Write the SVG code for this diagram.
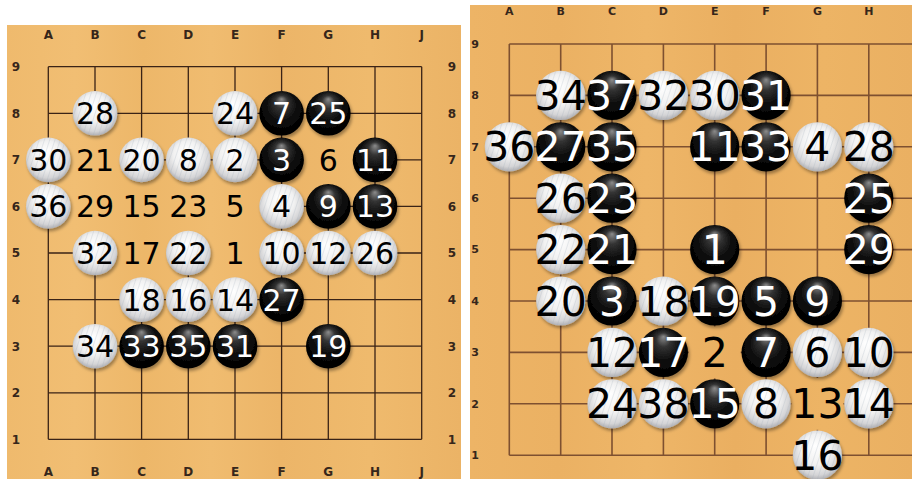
<svg xmlns="http://www.w3.org/2000/svg" width="912" height="479" viewBox="0 0 912 479">
<style>
.ln-l{stroke:#3a2316;stroke-width:1.3;fill:none}
.ln-r{stroke:#7e5030;stroke-width:1.6;fill:none}
.co{font-family:"DejaVu Sans",sans-serif;font-size:12px;font-weight:bold;fill:#36261a;text-anchor:middle}
.cr{font-size:11px}
.n{font-family:"DejaVu Sans",sans-serif;text-anchor:middle}
.nl{font-size:30px}
.nr{font-size:41px}
.bk{fill:url(#bg)}
.wh{fill:url(#wg)}
.gr{fill:url(#grain)}
.sh{filter:url(#ds)}
.tw{fill:#fff}
.tb{fill:#000}
</style>
<defs>
<linearGradient id="woodL" gradientUnits="userSpaceOnUse" x1="7" y1="0" x2="461" y2="0">
<stop offset="0" stop-color="#efba6d"/><stop offset="0.15" stop-color="#f1be73"/><stop offset="0.3" stop-color="#edb769"/><stop offset="0.45" stop-color="#f0bc70"/><stop offset="0.6" stop-color="#ecb568"/><stop offset="0.8" stop-color="#efba6d"/><stop offset="1" stop-color="#ebb366"/>
</linearGradient>
<linearGradient id="woodR" gradientUnits="userSpaceOnUse" x1="470" y1="0" x2="912" y2="0">
<stop offset="0" stop-color="#edb466"/><stop offset="0.2" stop-color="#ebb163"/><stop offset="0.4" stop-color="#eeb668"/><stop offset="0.6" stop-color="#eaaf61"/><stop offset="0.8" stop-color="#edb465"/><stop offset="1" stop-color="#eab062"/>
</linearGradient>
<radialGradient id="bg" cx="0.5" cy="0.45" r="0.58" fx="0.5" fy="0.18">
<stop offset="0" stop-color="#8c8c8c"/><stop offset="0.25" stop-color="#333"/><stop offset="0.6" stop-color="#0b0b0b"/><stop offset="1" stop-color="#000"/>
</radialGradient>
<radialGradient id="wg" cx="0.5" cy="0.45" r="0.56" fx="0.45" fy="0.3">
<stop offset="0" stop-color="#ffffff"/><stop offset="0.55" stop-color="#f1f1f1"/><stop offset="0.85" stop-color="#d4d4d6"/><stop offset="1" stop-color="#ababaf"/>
</radialGradient>
<pattern id="grain" patternUnits="userSpaceOnUse" width="5" height="12" patternTransform="rotate(18)">
<rect x="0" y="0" width="1" height="12" fill="#9aa6b4" opacity="0.22"/>
</pattern>
<filter id="ds" x="-30%" y="-30%" width="160%" height="160%">
<feDropShadow dx="1.5" dy="2.5" stdDeviation="1.6" flood-color="#000" flood-opacity="0.35"/>
</filter>
</defs>
<rect width="912" height="479" fill="#fff"/>

<g id="board-left">
<rect x="7" y="25" width="454" height="454" fill="url(#woodL)"/>
<g id="coords-left">
<text class="co" x="48.3" y="38.5">A</text><text class="co" x="95" y="38.5">B</text><text class="co" x="141.6" y="38.5">C</text><text class="co" x="188.3" y="38.5">D</text><text class="co" x="235" y="38.5">E</text><text class="co" x="281.6" y="38.5">F</text><text class="co" x="328.3" y="38.5">G</text><text class="co" x="375" y="38.5">H</text><text class="co" x="421.7" y="38.5">J</text>
<text class="co" x="48.3" y="475.5">A</text><text class="co" x="95" y="475.5">B</text><text class="co" x="141.6" y="475.5">C</text><text class="co" x="188.3" y="475.5">D</text><text class="co" x="235" y="475.5">E</text><text class="co" x="281.6" y="475.5">F</text><text class="co" x="328.3" y="475.5">G</text><text class="co" x="375" y="475.5">H</text><text class="co" x="421.7" y="475.5">J</text>
<text class="co" x="16" y="71">9</text><text class="co" x="16" y="117.6">8</text><text class="co" x="16" y="164.2">7</text><text class="co" x="16" y="210.7">6</text><text class="co" x="16" y="257.3">5</text><text class="co" x="16" y="303.9">4</text><text class="co" x="16" y="350.5">3</text><text class="co" x="16" y="397.1">2</text><text class="co" x="16" y="443.6">1</text>
<text class="co" x="452" y="71">9</text><text class="co" x="452" y="117.6">8</text><text class="co" x="452" y="164.2">7</text><text class="co" x="452" y="210.7">6</text><text class="co" x="452" y="257.3">5</text><text class="co" x="452" y="303.9">4</text><text class="co" x="452" y="350.5">3</text><text class="co" x="452" y="397.1">2</text><text class="co" x="452" y="443.6">1</text>
</g>
</g>

<g id="board-right">
<rect x="470" y="5" width="442" height="474" fill="url(#woodR)"/>
<g id="coords-right">
<text class="co cr" x="509.3" y="15">A</text><text class="co cr" x="560.7" y="15">B</text><text class="co cr" x="612" y="15">C</text><text class="co cr" x="663.4" y="15">D</text><text class="co cr" x="714.7" y="15">E</text><text class="co cr" x="766.1" y="15">F</text><text class="co cr" x="817.4" y="15">G</text><text class="co cr" x="868.8" y="15">H</text>
<text class="co cr" x="475" y="47.8">9</text><text class="co cr" x="475" y="99.2">8</text><text class="co cr" x="475" y="150.6">7</text><text class="co cr" x="475" y="202">6</text><text class="co cr" x="475" y="253.4">5</text><text class="co cr" x="475" y="304.8">4</text><text class="co cr" x="475" y="356.2">3</text><text class="co cr" x="475" y="407.6">2</text><text class="co cr" x="475" y="459">1</text>
</g>
</g>

<g id="connectors">
<g id="grid-left" class="ln-l">
<path d="M48.3 66.7V439.3M95 66.7V439.3M141.6 66.7V439.3M188.3 66.7V439.3M235 66.7V439.3M281.6 66.7V439.3M328.3 66.7V439.3M375 66.7V439.3M421.7 66.7V439.3"/>
<path d="M48.3 66.7H421.7M48.3 113.3H421.7M48.3 159.9H421.7M48.3 206.4H421.7M48.3 253H421.7M48.3 299.6H421.7M48.3 346.2H421.7M48.3 392.8H421.7M48.3 439.3H421.7"/>
</g>
<g id="grid-right" class="ln-r">
<path d="M509.3 44V455.2M560.7 44V455.2M612 44V455.2M663.4 44V455.2M714.7 44V455.2M766.1 44V455.2M817.4 44V455.2M868.8 44V455.2"/>
<path d="M509.3 44H912M509.3 95.4H912M509.3 146.8H912M509.3 198.2H912M509.3 249.6H912M509.3 301H912M509.3 352.4H912M509.3 403.8H912M509.3 455.2H912"/>
</g>
</g>

<g id="labels-left">
<g id="L-B7"><rect x="70" y="134.9" width="50" height="50" fill="url(#woodL)"/><text class="n nl tb" x="95" y="170.9">21</text></g>
<g id="L-G7"><rect x="303.3" y="134.9" width="50" height="50" fill="url(#woodL)"/><text class="n nl tb" x="328.3" y="170.9">6</text></g>
<g id="L-B6"><rect x="70" y="181.4" width="50" height="50" fill="url(#woodL)"/><text class="n nl tb" x="95" y="217.4">29</text></g>
<g id="L-C6"><rect x="116.6" y="181.4" width="50" height="50" fill="url(#woodL)"/><text class="n nl tb" x="141.6" y="217.4">15</text></g>
<g id="L-D6"><rect x="163.3" y="181.4" width="50" height="50" fill="url(#woodL)"/><text class="n nl tb" x="188.3" y="217.4">23</text></g>
<g id="L-E6"><rect x="210" y="181.4" width="50" height="50" fill="url(#woodL)"/><text class="n nl tb" x="235" y="217.4">5</text></g>
<g id="L-C5"><rect x="116.6" y="228" width="50" height="50" fill="url(#woodL)"/><text class="n nl tb" x="141.6" y="264">17</text></g>
<g id="L-E5"><rect x="210" y="228" width="50" height="50" fill="url(#woodL)"/><text class="n nl tb" x="235" y="264">1</text></g>
</g>

<g id="labels-right">
<g id="R-E3"><rect x="688.7" y="326.4" width="52" height="52" fill="url(#woodR)"/><text class="n nr tb" x="714.7" y="367">2</text></g>
<g id="R-G2"><rect x="791.4" y="377.8" width="52" height="52" fill="url(#woodR)"/><text class="n nr tb" x="817.4" y="418.4">13</text></g>
</g>

<g id="stones-left">
<g id="L-B8"><circle class="wh sh" cx="95" cy="113.3" r="22.3"/><circle class="gr" cx="95" cy="113.3" r="22.3"/><text class="n nl tb" x="95" y="124.3">28</text></g>
<g id="L-E8"><circle class="wh sh" cx="235" cy="113.3" r="22.3"/><circle class="gr" cx="235" cy="113.3" r="22.3"/><text class="n nl tb" x="235" y="124.3">24</text></g>
<g id="L-F8"><circle class="bk sh" cx="281.6" cy="113.3" r="22.3"/><text class="n nl tw" x="281.6" y="124.3">7</text></g>
<g id="L-G8"><circle class="bk sh" cx="328.3" cy="113.3" r="22.3"/><text class="n nl tw" x="328.3" y="124.3">25</text></g>
<g id="L-A7"><circle class="wh sh" cx="48.3" cy="159.9" r="22.3"/><circle class="gr" cx="48.3" cy="159.9" r="22.3"/><text class="n nl tb" x="48.3" y="170.9">30</text></g>
<g id="L-C7"><circle class="wh sh" cx="141.6" cy="159.9" r="22.3"/><circle class="gr" cx="141.6" cy="159.9" r="22.3"/><text class="n nl tb" x="141.6" y="170.9">20</text></g>
<g id="L-D7"><circle class="wh sh" cx="188.3" cy="159.9" r="22.3"/><circle class="gr" cx="188.3" cy="159.9" r="22.3"/><text class="n nl tb" x="188.3" y="170.9">8</text></g>
<g id="L-E7"><circle class="wh sh" cx="235" cy="159.9" r="22.3"/><circle class="gr" cx="235" cy="159.9" r="22.3"/><text class="n nl tb" x="235" y="170.9">2</text></g>
<g id="L-F7"><circle class="bk sh" cx="281.6" cy="159.9" r="22.3"/><text class="n nl tw" x="281.6" y="170.9">3</text></g>
<g id="L-H7"><circle class="bk sh" cx="375" cy="159.9" r="22.3"/><text class="n nl tw" x="375" y="170.9">11</text></g>
<g id="L-A6"><circle class="wh sh" cx="48.3" cy="206.4" r="22.3"/><circle class="gr" cx="48.3" cy="206.4" r="22.3"/><text class="n nl tb" x="48.3" y="217.4">36</text></g>
<g id="L-F6"><circle class="wh sh" cx="281.6" cy="206.4" r="22.3"/><circle class="gr" cx="281.6" cy="206.4" r="22.3"/><text class="n nl tb" x="281.6" y="217.4">4</text></g>
<g id="L-G6"><circle class="bk sh" cx="328.3" cy="206.4" r="22.3"/><text class="n nl tw" x="328.3" y="217.4">9</text></g>
<g id="L-H6"><circle class="bk sh" cx="375" cy="206.4" r="22.3"/><text class="n nl tw" x="375" y="217.4">13</text></g>
<g id="L-B5"><circle class="wh sh" cx="95" cy="253" r="22.3"/><circle class="gr" cx="95" cy="253" r="22.3"/><text class="n nl tb" x="95" y="264">32</text></g>
<g id="L-D5"><circle class="wh sh" cx="188.3" cy="253" r="22.3"/><circle class="gr" cx="188.3" cy="253" r="22.3"/><text class="n nl tb" x="188.3" y="264">22</text></g>
<g id="L-F5"><circle class="wh sh" cx="281.6" cy="253" r="22.3"/><circle class="gr" cx="281.6" cy="253" r="22.3"/><text class="n nl tb" x="281.6" y="264">10</text></g>
<g id="L-G5"><circle class="wh sh" cx="328.3" cy="253" r="22.3"/><circle class="gr" cx="328.3" cy="253" r="22.3"/><text class="n nl tb" x="328.3" y="264">12</text></g>
<g id="L-H5"><circle class="wh sh" cx="375" cy="253" r="22.3"/><circle class="gr" cx="375" cy="253" r="22.3"/><text class="n nl tb" x="375" y="264">26</text></g>
<g id="L-C4"><circle class="wh sh" cx="141.6" cy="299.6" r="22.3"/><circle class="gr" cx="141.6" cy="299.6" r="22.3"/><text class="n nl tb" x="141.6" y="310.6">18</text></g>
<g id="L-D4"><circle class="wh sh" cx="188.3" cy="299.6" r="22.3"/><circle class="gr" cx="188.3" cy="299.6" r="22.3"/><text class="n nl tb" x="188.3" y="310.6">16</text></g>
<g id="L-E4"><circle class="wh sh" cx="235" cy="299.6" r="22.3"/><circle class="gr" cx="235" cy="299.6" r="22.3"/><text class="n nl tb" x="235" y="310.6">14</text></g>
<g id="L-F4"><circle class="bk sh" cx="281.6" cy="299.6" r="22.3"/><text class="n nl tw" x="281.6" y="310.6">27</text></g>
<g id="L-B3"><circle class="wh sh" cx="95" cy="346.2" r="22.3"/><circle class="gr" cx="95" cy="346.2" r="22.3"/><text class="n nl tb" x="95" y="357.2">34</text></g>
<g id="L-C3"><circle class="bk sh" cx="141.6" cy="346.2" r="22.3"/><text class="n nl tw" x="141.6" y="357.2">33</text></g>
<g id="L-D3"><circle class="bk sh" cx="188.3" cy="346.2" r="22.3"/><text class="n nl tw" x="188.3" y="357.2">35</text></g>
<g id="L-E3"><circle class="bk sh" cx="235" cy="346.2" r="22.3"/><text class="n nl tw" x="235" y="357.2">31</text></g>
<g id="L-G3"><circle class="bk sh" cx="328.3" cy="346.2" r="22.3"/><text class="n nl tw" x="328.3" y="357.2">19</text></g>
</g>

<g id="stones-right">
<g id="R-B8"><circle class="wh sh" cx="560.7" cy="95.4" r="24.6"/><circle class="gr" cx="560.7" cy="95.4" r="24.6"/><text class="n nr tb" x="560.7" y="110">34</text></g>
<g id="R-C8"><circle class="bk sh" cx="612" cy="95.4" r="24.6"/><text class="n nr tw" x="612" y="110">37</text></g>
<g id="R-D8"><circle class="wh sh" cx="663.4" cy="95.4" r="24.6"/><circle class="gr" cx="663.4" cy="95.4" r="24.6"/><text class="n nr tb" x="663.4" y="110">32</text></g>
<g id="R-E8"><circle class="wh sh" cx="714.7" cy="95.4" r="24.6"/><circle class="gr" cx="714.7" cy="95.4" r="24.6"/><text class="n nr tb" x="714.7" y="110">30</text></g>
<g id="R-F8"><circle class="bk sh" cx="766.1" cy="95.4" r="24.6"/><text class="n nr tw" x="766.1" y="110">31</text></g>
<g id="R-A7"><circle class="wh sh" cx="509.3" cy="146.8" r="24.6"/><circle class="gr" cx="509.3" cy="146.8" r="24.6"/><text class="n nr tb" x="509.3" y="161.4">36</text></g>
<g id="R-B7"><circle class="bk sh" cx="560.7" cy="146.8" r="24.6"/><text class="n nr tw" x="560.7" y="161.4">27</text></g>
<g id="R-C7"><circle class="bk sh" cx="612" cy="146.8" r="24.6"/><text class="n nr tw" x="612" y="161.4">35</text></g>
<g id="R-E7"><circle class="bk sh" cx="714.7" cy="146.8" r="24.6"/><text class="n nr tw" x="714.7" y="161.4">11</text></g>
<g id="R-F7"><circle class="bk sh" cx="766.1" cy="146.8" r="24.6"/><text class="n nr tw" x="766.1" y="161.4">33</text></g>
<g id="R-G7"><circle class="wh sh" cx="817.4" cy="146.8" r="24.6"/><circle class="gr" cx="817.4" cy="146.8" r="24.6"/><text class="n nr tb" x="817.4" y="161.4">4</text></g>
<g id="R-H7"><circle class="wh sh" cx="868.8" cy="146.8" r="24.6"/><circle class="gr" cx="868.8" cy="146.8" r="24.6"/><text class="n nr tb" x="868.8" y="161.4">28</text></g>
<g id="R-B6"><circle class="wh sh" cx="560.7" cy="198.2" r="24.6"/><circle class="gr" cx="560.7" cy="198.2" r="24.6"/><text class="n nr tb" x="560.7" y="212.8">26</text></g>
<g id="R-C6"><circle class="bk sh" cx="612" cy="198.2" r="24.6"/><text class="n nr tw" x="612" y="212.8">23</text></g>
<g id="R-H6"><circle class="bk sh" cx="868.8" cy="198.2" r="24.6"/><text class="n nr tw" x="868.8" y="212.8">25</text></g>
<g id="R-B5"><circle class="wh sh" cx="560.7" cy="249.6" r="24.6"/><circle class="gr" cx="560.7" cy="249.6" r="24.6"/><text class="n nr tb" x="560.7" y="264.2">22</text></g>
<g id="R-C5"><circle class="bk sh" cx="612" cy="249.6" r="24.6"/><text class="n nr tw" x="612" y="264.2">21</text></g>
<g id="R-E5"><circle class="bk sh" cx="714.7" cy="249.6" r="24.6"/><text class="n nr tw" x="714.7" y="264.2">1</text></g>
<g id="R-H5"><circle class="bk sh" cx="868.8" cy="249.6" r="24.6"/><text class="n nr tw" x="868.8" y="264.2">29</text></g>
<g id="R-B4"><circle class="wh sh" cx="560.7" cy="301" r="24.6"/><circle class="gr" cx="560.7" cy="301" r="24.6"/><text class="n nr tb" x="560.7" y="315.6">20</text></g>
<g id="R-C4"><circle class="bk sh" cx="612" cy="301" r="24.6"/><text class="n nr tw" x="612" y="315.6">3</text></g>
<g id="R-D4"><circle class="wh sh" cx="663.4" cy="301" r="24.6"/><circle class="gr" cx="663.4" cy="301" r="24.6"/><text class="n nr tb" x="663.4" y="315.6">18</text></g>
<g id="R-E4"><circle class="bk sh" cx="714.7" cy="301" r="24.6"/><text class="n nr tw" x="714.7" y="315.6">19</text></g>
<g id="R-F4"><circle class="bk sh" cx="766.1" cy="301" r="24.6"/><text class="n nr tw" x="766.1" y="315.6">5</text></g>
<g id="R-G4"><circle class="bk sh" cx="817.4" cy="301" r="24.6"/><text class="n nr tw" x="817.4" y="315.6">9</text></g>
<g id="R-C3"><circle class="wh sh" cx="612" cy="352.4" r="24.6"/><circle class="gr" cx="612" cy="352.4" r="24.6"/><text class="n nr tb" x="612" y="367">12</text></g>
<g id="R-D3"><circle class="bk sh" cx="663.4" cy="352.4" r="24.6"/><text class="n nr tw" x="663.4" y="367">17</text></g>
<g id="R-F3"><circle class="bk sh" cx="766.1" cy="352.4" r="24.6"/><text class="n nr tw" x="766.1" y="367">7</text></g>
<g id="R-G3"><circle class="wh sh" cx="817.4" cy="352.4" r="24.6"/><circle class="gr" cx="817.4" cy="352.4" r="24.6"/><text class="n nr tb" x="817.4" y="367">6</text></g>
<g id="R-H3"><circle class="wh sh" cx="868.8" cy="352.4" r="24.6"/><circle class="gr" cx="868.8" cy="352.4" r="24.6"/><text class="n nr tb" x="868.8" y="367">10</text></g>
<g id="R-C2"><circle class="wh sh" cx="612" cy="403.8" r="24.6"/><circle class="gr" cx="612" cy="403.8" r="24.6"/><text class="n nr tb" x="612" y="418.4">24</text></g>
<g id="R-D2"><circle class="wh sh" cx="663.4" cy="403.8" r="24.6"/><circle class="gr" cx="663.4" cy="403.8" r="24.6"/><text class="n nr tb" x="663.4" y="418.4">38</text></g>
<g id="R-E2"><circle class="bk sh" cx="714.7" cy="403.8" r="24.6"/><text class="n nr tw" x="714.7" y="418.4">15</text></g>
<g id="R-F2"><circle class="wh sh" cx="766.1" cy="403.8" r="24.6"/><circle class="gr" cx="766.1" cy="403.8" r="24.6"/><text class="n nr tb" x="766.1" y="418.4">8</text></g>
<g id="R-H2"><circle class="wh sh" cx="868.8" cy="403.8" r="24.6"/><circle class="gr" cx="868.8" cy="403.8" r="24.6"/><text class="n nr tb" x="868.8" y="418.4">14</text></g>
<g id="R-G1"><circle class="wh sh" cx="817.4" cy="455.2" r="24.6"/><circle class="gr" cx="817.4" cy="455.2" r="24.6"/><text class="n nr tb" x="817.4" y="469.8">16</text></g>
</g>
</svg>
